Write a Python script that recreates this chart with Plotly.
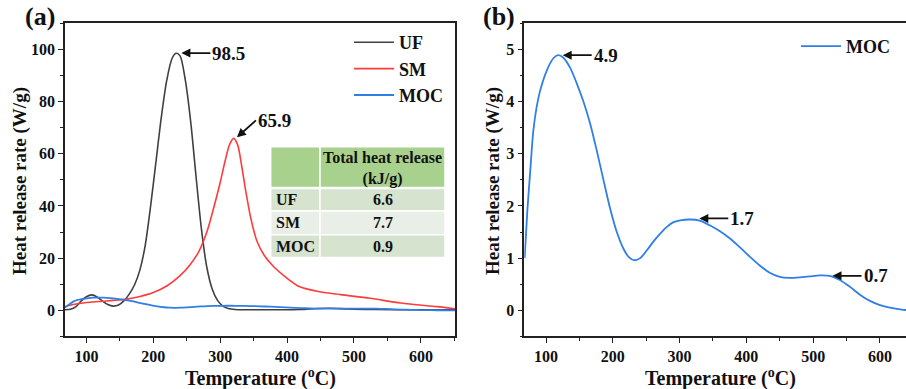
import plotly.graph_objects as go

# ---------------- data ----------------
uf_T = [68, 76, 84, 92, 100, 108, 116, 124, 132, 140, 148, 156, 164, 172, 180, 188, 196, 204, 212, 220,
        228, 234, 240, 248, 256, 264, 272, 280, 288, 296, 304, 312, 322, 340, 380, 420, 445, 465, 490,
        530, 590, 651]
uf_v = [0.2, 0.4, 1.3, 3.5, 5.2, 5.9, 5.1, 3.5, 2.2, 1.6, 2.0, 3.6, 6.2, 9.8, 15.5, 25, 40, 57, 74, 88,
        96.5, 98.5, 97.5, 88, 72, 51, 31, 16.5, 8.2, 3.8, 1.6, 0.7, 0.3, 0.2, 0.2, 0.3, 0.7, 0.8, 0.5,
        0.3, 0.2, 0.2]

sm_T = [68, 80, 100, 120, 140, 160, 180, 200, 220, 240, 255, 268, 280, 290, 300, 308, 314, 320, 326,
        332, 338, 346, 355, 366, 380, 397, 419, 449, 480, 524, 570, 624, 651]
sm_v = [1.4, 2.2, 3.0, 3.4, 3.8, 4.3, 5.3, 6.8, 9.3, 13.3, 17.5, 22.5, 30, 39, 49, 58, 63.5, 65.9, 63.5,
        55.5, 46, 35, 26.5, 21, 16.7, 12.9, 9, 7.1, 6.0, 4.6, 2.8, 1.4, 0.6]

moc_T = [68, 72, 76, 81, 86, 91, 101, 111, 118, 126, 136, 146, 156, 166, 176, 186, 196, 206, 216, 224,
         232, 241, 251, 261, 271, 281, 291, 303, 316, 330, 345, 360, 375, 390, 405, 420, 435, 450, 465,
         480, 495, 510, 525, 540, 555, 570, 585, 600, 615, 635, 651]
moc_v = [1.0, 1.9, 2.6, 3.44, 3.9, 4.2, 4.59, 4.83, 4.89, 4.84, 4.65, 4.35, 4.0, 3.58, 3.06, 2.5, 1.95,
         1.5, 1.18, 1.02, 0.96, 1.0, 1.15, 1.32, 1.47, 1.6, 1.69, 1.73, 1.74, 1.72, 1.63, 1.52, 1.38,
         1.21, 1.03, 0.86, 0.72, 0.64, 0.62, 0.63, 0.65, 0.67, 0.66, 0.58, 0.45, 0.3, 0.18, 0.1, 0.05,
         0.01, 0.0]

table_names = ["UF", "SM", "MOC"]
table_totals = ["6.6", "7.7", "0.9"]
table_header = "Total heat release<br>(kJ/g)"

# peak labels: (T, value, text)
peaks_a = [(242, 98.6, "98.5"), (325, 66.3, "65.9")]
peaks_b = [(125, 4.89, "4.9"), (329.5, 1.76, "1.7"), (529, 0.66, "0.7")]

# ---------------- style ----------------
W, H = 906, 389
FONT = "Liberation Serif, Times New Roman, serif"
C_UF, C_SM, C_MOC = "#404040", "#ff3b3b", "#2f7fe6"
AX = "#222222"
TXT = "#111111"


def px_x(p):
    return p / W


def px_y(p):
    return 1 - p / H


fig = go.Figure()
fig.add_trace(go.Scatter(x=uf_T, y=uf_v, mode="lines", name="UF",
                         line=dict(color=C_UF, width=1.6, shape="spline", smoothing=0.8),
                         xaxis="x", yaxis="y", legend="legend"))
fig.add_trace(go.Scatter(x=sm_T, y=sm_v, mode="lines", name="SM",
                         line=dict(color=C_SM, width=1.6, shape="spline", smoothing=0.8),
                         xaxis="x", yaxis="y", legend="legend"))
fig.add_trace(go.Scatter(x=moc_T, y=moc_v, mode="lines", name="MOC",
                         line=dict(color=C_MOC, width=1.8, shape="spline", smoothing=0.8),
                         xaxis="x", yaxis="y", legend="legend"))
fig.add_trace(go.Scatter(x=moc_T, y=moc_v, mode="lines", name="MOC",
                         line=dict(color=C_MOC, width=1.8, shape="spline", smoothing=0.8),
                         xaxis="x2", yaxis="y2", legend="legend2"))

ydom = [px_y(336.4), px_y(23.3)]
tickfont = dict(family=FONT, size=16, color=TXT, weight="bold")
common_ax = dict(showline=True, linecolor=AX, linewidth=1.6, ticks="outside", ticklen=5, tickwidth=1.3,
                 tickcolor=AX, showgrid=False, zeroline=False, tickfont=tickfont)

fig.update_layout(
    width=W, height=H, margin=dict(l=0, r=0, t=0, b=0),
    paper_bgcolor="white", plot_bgcolor="white",
    xaxis=dict(domain=[px_x(65), px_x(455)], range=[68, 651], dtick=100, tick0=0, anchor="y", mirror=True,
               minor=dict(dtick=50, tick0=0, ticklen=3, tickcolor=AX, ticks="outside"), **common_ax),
    yaxis=dict(domain=ydom, range=[-10, 110], dtick=20, tick0=0, anchor="x", mirror=True,
               minor=dict(dtick=10, tick0=0, ticklen=3, tickcolor=AX, ticks="outside"), **common_ax),
    xaxis2=dict(domain=[px_x(524.3), 1.0], range=[67.5, 639], dtick=100, tick0=0, anchor="y2", mirror=True,
                minor=dict(dtick=50, tick0=0, ticklen=3, tickcolor=AX, ticks="outside"), **common_ax),
    yaxis2=dict(domain=ydom, range=[-0.5, 5.5], dtick=1, tick0=0, anchor="x2", mirror=False,
                minor=dict(dtick=0.5, tick0=0, ticklen=3, tickcolor=AX, ticks="outside"), **common_ax),
    legend=dict(x=px_x(349), y=px_y(24), xanchor="left", yanchor="top", bgcolor="rgba(0,0,0,0)",
                font=dict(family=FONT, size=18, color=TXT, weight="bold"), itemwidth=40, tracegroupgap=0),
    legend2=dict(x=px_x(796), y=px_y(28), xanchor="left", yanchor="top", bgcolor="rgba(0,0,0,0)",
                 font=dict(family=FONT, size=18, color=TXT, weight="bold"), itemwidth=40),
    showlegend=True,
)

# ---------------- inset table (shapes + text) ----------------
shapes = []
annots = []
tx0, tx1, tx2 = 270.7, 320.0, 445.0
hy0, hy1 = 146.7, 187.5
row_edges = [(188.5, 211.0), (211.0, 234.8), (234.8, 257.5)]
row_fill = ["#d5e3cf", "#e9efe6", "#d5e3cf"]
cell_font = dict(family=FONT, size=16, color=TXT, weight="bold")


def rect(x0, y0, x1, y1, fill):
    return dict(type="rect", xref="paper", yref="paper", x0=px_x(x0), x1=px_x(x1), y0=px_y(y1), y1=px_y(y0),
                fillcolor=fill, line=dict(color="white", width=1.5), layer="above")


shapes.append(rect(tx0, hy0, tx1, hy1, "#a9d18e"))
shapes.append(rect(tx1, hy0, tx2, hy1, "#a9d18e"))
annots.append(dict(x=px_x((tx1 + tx2) / 2), y=px_y((hy0 + hy1) / 2 + 1), xref="paper", yref="paper",
                   text=table_header, showarrow=False, xanchor="center", yanchor="middle",
                   font=dict(family=FONT, size=16, color=TXT, weight="bold")))
for (ry0, ry1), fill, name, val in zip(row_edges, row_fill, table_names, table_totals):
    shapes.append(rect(tx0, ry0, tx1, ry1, fill))
    shapes.append(rect(tx1, ry0, tx2, ry1, fill))
    cy = (ry0 + ry1) / 2
    annots.append(dict(x=px_x(tx0 + 3), y=px_y(cy), xref="paper", yref="paper", text=name, showarrow=False,
                       xanchor="left", yanchor="middle", font=cell_font))
    annots.append(dict(x=px_x((tx1 + tx2) / 2), y=px_y(cy), xref="paper", yref="paper", text=val,
                       showarrow=False, xanchor="center", yanchor="middle", font=cell_font))

# ---------------- peak arrows ----------------
lab_font = dict(family=FONT, size=19, color=TXT, weight="bold")
for (t, v, txt), (ax, ay) in zip(peaks_a, [(29, 0), (19, -17)]):
    annots.append(dict(x=t, y=v, xref="x", yref="y", text=txt, showarrow=True, ax=ax, ay=ay,
                       xanchor="left", yanchor="middle", arrowhead=2, arrowsize=1, arrowwidth=1.8,
                       arrowcolor=TXT, standoff=0, font=lab_font))
for t, v, txt in peaks_b:
    annots.append(dict(x=t, y=v, xref="x2", yref="y2", text=txt, showarrow=True, ax=29, ay=0,
                       xanchor="left", yanchor="middle", arrowhead=2, arrowsize=1, arrowwidth=1.8,
                       arrowcolor=TXT, standoff=0, font=lab_font))

# ---------------- axis titles & panel labels ----------------
title_font = dict(family=FONT, size=20, color=TXT, weight="bold")
for cx in (260.5, 720.5):
    annots.append(dict(x=px_x(cx), y=px_y(377), xref="paper", yref="paper", showarrow=False,
                       text="Temperature (<sup>o</sup>C)", font=title_font, xanchor="center", yanchor="middle"))
for cx in (20, 493):
    annots.append(dict(x=px_x(cx), y=px_y(181), xref="paper", yref="paper", showarrow=False, textangle=-90,
                       text="Heat release rate (W/g)", font=dict(family=FONT, size=19, color=TXT, weight="bold"),
                       xanchor="center", yanchor="middle"))
for cx, lab in ((40, "(a)"), (499, "(b)")):
    annots.append(dict(x=px_x(cx), y=px_y(17), xref="paper", yref="paper", showarrow=False, text=lab,
                       font=dict(family=FONT, size=26, color=TXT, weight="bold"),
                       xanchor="center", yanchor="middle"))

fig.update_layout(shapes=shapes, annotations=annots)

fig.write_html("out.html", config={"displayModeBar": False},
               post_script="document.body.style.margin='0';document.body.style.overflow='hidden';")
